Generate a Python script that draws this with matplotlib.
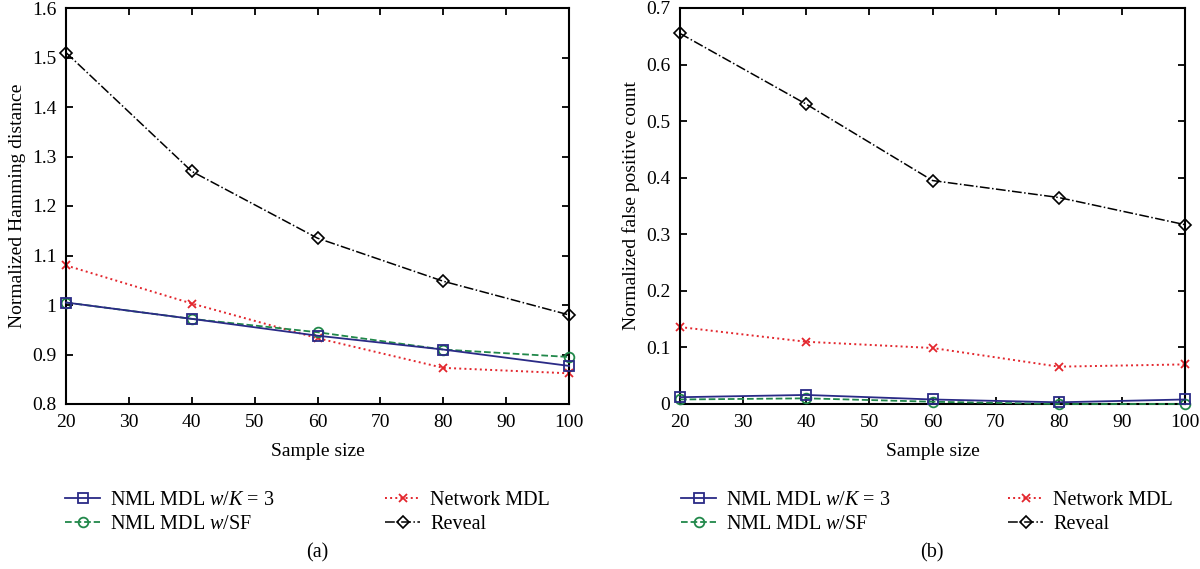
import matplotlib.pyplot as plt
import numpy as np

sample_sizes = [20, 40, 60, 80, 100]

# (a) normalized Hamming distance
ham_nml_k3 = [1.005, 0.972, 0.938, 0.910, 0.877]
ham_nml_sf = [1.005, 0.972, 0.945, 0.910, 0.895]
ham_network = [1.080, 1.003, 0.933, 0.873, 0.862]
ham_reveal = [1.510, 1.270, 1.135, 1.048, 0.980]

# (b) normalized false positive count
fp_nml_k3 = [0.012, 0.016, 0.008, 0.003, 0.008]
fp_nml_sf = [0.008, 0.010, 0.004, 0.000, 0.000]
fp_network = [0.136, 0.110, 0.099, 0.066, 0.070]
fp_reveal = [0.655, 0.530, 0.395, 0.365, 0.317]

labels = ['NML MDL $\\it{w/K}$ = 3', 'NML MDL $\\it{w}$/SF', 'Network MDL', 'Reveal']

plt.rcParams['font.family'] = ['Liberation Serif', 'DejaVu Serif']
plt.rcParams['mathtext.fontset'] = 'custom'
plt.rcParams['mathtext.it'] = 'Liberation Serif:italic'
plt.rcParams['mathtext.rm'] = 'Liberation Serif'

W, H = 1200, 569
fig = plt.figure(figsize=(W / 100, H / 100), dpi=100)
ax1 = fig.add_axes([66 / W, 1 - 404 / H, 503 / W, 396 / H])
ax2 = fig.add_axes([680 / W, 1 - 404 / H, 505 / W, 396 / H])


def fmt(v):
    s = '%.1f' % v
    if s.endswith('.0'):
        s = s[:-2]
    return s


def draw(ax, k3, sf, net, rev, ylim, yticks, ylabel, leg_x1, leg_x2):
    h1, = ax.plot(sample_sizes, k3, '-', color='#2a2a86', lw=1.3, marker='s', ms=7,
                  mfc='none', mew=1.3, zorder=4)
    h2, = ax.plot(sample_sizes, sf, '--', color='#21884a', lw=1.3, marker='o', ms=7,
                  mfc='none', mew=1.3, zorder=3)
    h3, = ax.plot(sample_sizes, net, ':', color='#e3262d', lw=1.4, marker='x', ms=6,
                  mew=1.3, zorder=2)
    h4, = ax.plot(sample_sizes, rev, '-.', color='black', lw=1.1, marker='D', ms=6.5,
                  mfc='none', mew=1.2, zorder=5)
    for line in ax.lines:
        line.set_clip_on(False)
    ax.set_xlim(20, 100)
    ax.set_ylim(*ylim)
    ax.set_xticks(np.arange(20, 101, 10))
    ax.set_yticks(yticks)
    ax.set_yticklabels([fmt(v) for v in yticks])
    ax.tick_params(direction='in', top=True, right=True, length=5, width=1.3,
                   labelsize=14, pad=7)
    for s in ax.spines.values():
        s.set_linewidth(1.5)
    ax.set_xlabel('Sample size', fontsize=14, labelpad=9)
    ax.set_ylabel(ylabel, fontsize=14, labelpad=4)

    kw = dict(loc='upper left', frameon=False, fontsize=14.5, borderpad=0,
              borderaxespad=0, handlelength=1.75, handletextpad=0.5,
              labelspacing=0.25, bbox_transform=fig.transFigure)
    leg1 = ax.legend([h1, h2], labels[:2], bbox_to_anchor=(leg_x1 / W, 1 - 491 / H), **kw)
    ax.add_artist(leg1)
    ax.legend([h3, h4], labels[2:], bbox_to_anchor=(leg_x2 / W, 1 - 491 / H), **kw)


draw(ax1, ham_nml_k3, ham_nml_sf, ham_network, ham_reveal,
     (0.8, 1.6), np.arange(0.8, 1.61, 0.1), 'Normalized Hamming distance', 65, 385)
draw(ax2, fp_nml_k3, fp_nml_sf, fp_network, fp_reveal,
     (0, 0.7), np.arange(0, 0.71, 0.1), 'Normalized false positive count', 681, 1008)

fig.text(317 / W, 1 - 553 / H, '(a)', ha='center', va='center', fontsize=14.5)
fig.text(932 / W, 1 - 553 / H, '(b)', ha='center', va='center', fontsize=14.5)

fig.savefig('out.png', dpi=100)
